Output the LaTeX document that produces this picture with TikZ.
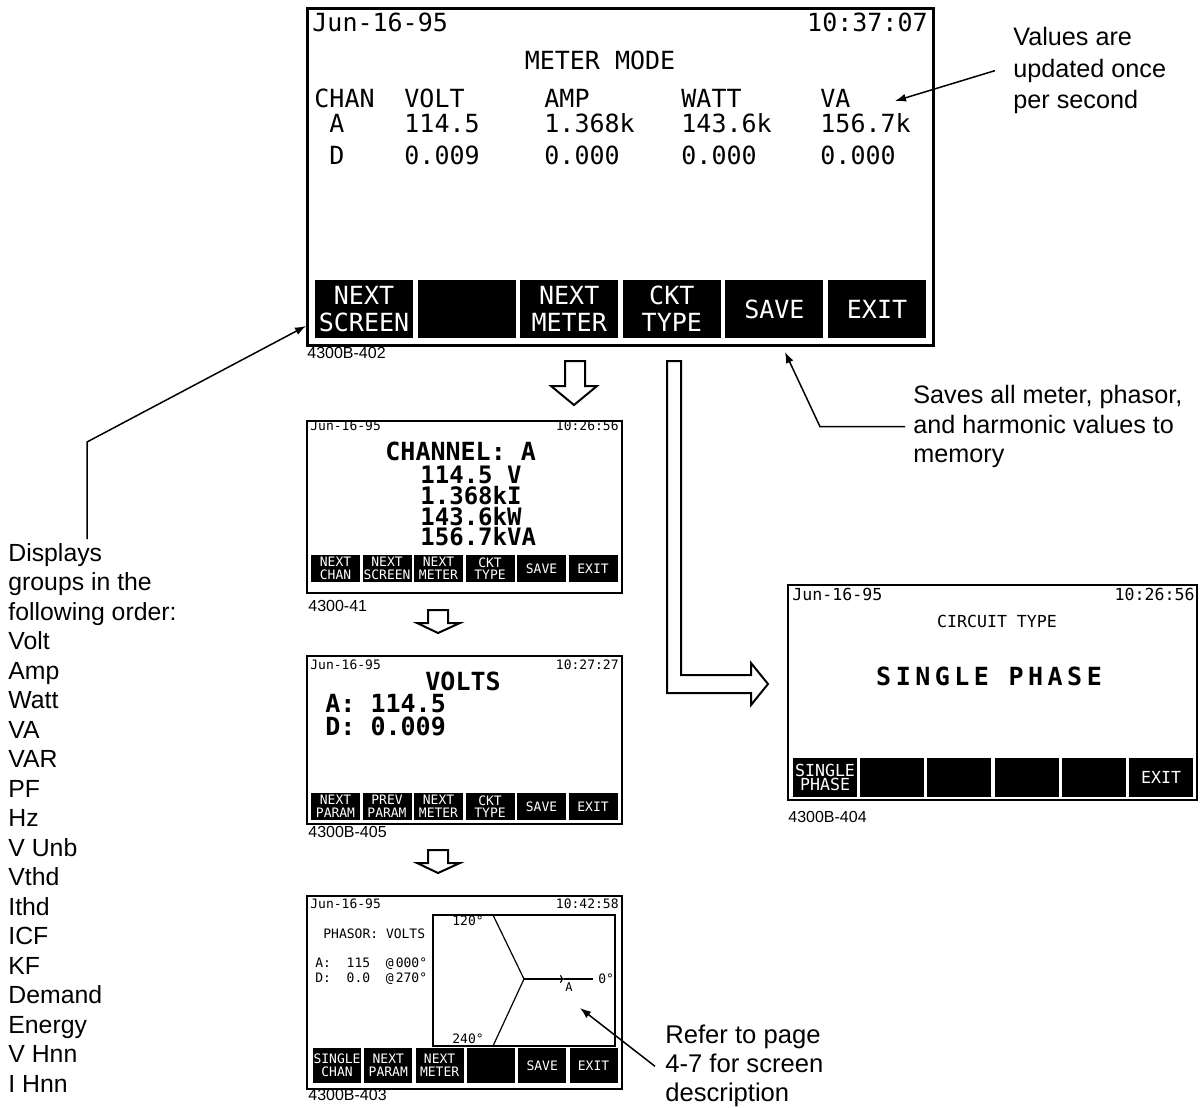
\documentclass[tikz,border=0pt]{standalone}
\usepackage{fontspec}
\setmainfont{Liberation Sans}
\newfontfamily\lcd{DejaVu Sans Mono}
\newfontfamily\lcdwide[LetterSpace=18]{DejaVu Sans Mono}
\usepackage{tikz}
\usetikzlibrary{positioning}
\usetikzlibrary{arrows,arrows.meta}

\newcommand{\lcdbig}{\lcd\fontsize{12.5}{13.5}\selectfont}
\newcommand{\lcdmid}{\lcd\fontsize{8.3}{7.4}\selectfont}
\newcommand{\lcdsmall}{\lcd\fontsize{6.5}{6.3}\selectfont}
\newcommand{\notefont}{\fontsize{12.4}{14.75}\selectfont}

\begin{document}
\begin{tikzpicture}[x=0.5pt,y=-0.5pt,
  screen/.style={draw,line width=1.2pt,inner sep=0pt},
  softkey/.style={fill=black,text=white,inner sep=0pt,align=center},
  lcdtext/.style={inner sep=0pt,anchor=base west},
  tag/.style={inner sep=0pt,anchor=base west,font=\fontsize{8}{9}\selectfont},
  note/.style={inner sep=0pt,anchor=north west,align=left,font=\notefont},
  hollow/.style={draw,line width=1pt,fill=white},
  callout/.style={line width=0.75pt,-{Latex[length=5.5pt,width=4pt]}}]
  \useasboundingbox (0,0) rectangle (1203,1107);

  % meter mode screen
  \node (meter) [screen,line width=1.5pt,minimum width=313pt,minimum height=168pt] at (620,177) {};
  \node (mdate) [lcdtext,font=\lcdbig] at (312,32) {Jun-16-95};
  \node (mtime) [lcdtext,anchor=base east,font=\lcdbig] at (928,32) {10:37:07};
  \node (mtitle) [lcdtext,anchor=base,font=\lcdbig] at (600,70) {METER MODE};
  \node (mchan) [lcdtext,font=\lcdbig] at (314,108) {CHAN};
  \node (mchA) [lcdtext,font=\lcdbig] at (329,133) {A};
  \node (mchD) [lcdtext,font=\lcdbig] at (329,165) {D};
  \foreach \x/\h/\a/\d [count=\i] in {404/VOLT/114.5/0.009, 544/AMP/1.368k/0.000, 681/WATT/143.6k/0.000, 820/VA/156.7k/0.000}{
    \node (mhead\i) [lcdtext,font=\lcdbig] at (\x,108) {\h};
    \node (mvalA\i) [lcdtext,font=\lcdbig] at (\x,133) {\a};
    \node (mvalD\i) [lcdtext,font=\lcdbig] at (\x,165) {\d};
  }
  \foreach \lab [count=\i] in {{NEXT\\SCREEN},{},{NEXT\\METER},{CKT\\TYPE},SAVE,EXIT}
    \node (mkey\i) [softkey,font=\lcdbig,minimum width=49pt,minimum height=29pt] at ({364+102.6*(\i-1)},309) {\lab};
  \node (mtag) [tag] at (307,358) {4300B-402};

  % channel screen
  \node (chan) [screen,minimum width=157.5pt,minimum height=86pt] at (464.5,507) {};
  \node (cdate) [lcdtext,font=\lcdsmall] at (310,430) {Jun-16-95};
  \node (ctime) [lcdtext,anchor=base east,font=\lcdsmall] at (619,430) {10:26:56};
  \node (ctitle) [lcdtext,font=\lcdbig\bfseries] at (385,460) {CHANNEL: A};
  \node (cvals) [inner sep=0pt,anchor=north west,align=left,font=\lcd\bfseries\fontsize{12}{10.3}\selectfont] at (420,466) {114.5 V\\1.368kI\\143.6kW\\156.7kVA};
  \foreach \lab [count=\i] in {{NEXT\\CHAN},{NEXT\\SCREEN},{NEXT\\METER},{CKT\\TYPE},SAVE,EXIT}
    \node (ckey\i) [softkey,font=\lcdsmall,minimum width=24.5pt,minimum height=13.5pt] at ({335.5+51.5*(\i-1)},568.5) {\lab};
  \node (ctag) [tag] at (308,611) {4300-41};

  % volts screen
  \node (volts) [screen,minimum width=157.5pt,minimum height=84pt] at (464.5,740) {};
  \node (vdate) [lcdtext,font=\lcdsmall] at (310,669) {Jun-16-95};
  \node (vtime) [lcdtext,anchor=base east,font=\lcdsmall] at (619,669) {10:27:27};
  \node (vtitle) [lcdtext,font=\lcdbig\bfseries] at (425,690) {VOLTS};
  \node (vA) [lcdtext,font=\lcdbig\bfseries] at (325,712) {A: 114.5};
  \node (vD) [lcdtext,font=\lcdbig\bfseries] at (325,735) {D: 0.009};
  \foreach \lab [count=\i] in {{NEXT\\PARAM},{PREV\\PARAM},{NEXT\\METER},{CKT\\TYPE},SAVE,EXIT}
    \node (vkey\i) [softkey,font=\lcdsmall,minimum width=24.5pt,minimum height=13.5pt] at ({335.5+51.5*(\i-1)},806.5) {\lab};
  \node (vtag) [tag] at (308,837) {4300B-405};

  % phasor screen
  \node (phasor) [screen,minimum width=157.5pt,minimum height=96.5pt] at (464.5,992.5) {};
  \node (pdate) [lcdtext,font=\lcdsmall] at (310,908) {Jun-16-95};
  \node (ptime) [lcdtext,anchor=base east,font=\lcdsmall] at (619,908) {10:42:58};
  \node (ptitle) [lcdtext,font=\lcdsmall] at (323,938) {PHASOR: VOLTS};
  \node (pA) [lcdtext,font=\lcdsmall] at (315,967) {A:~~115~~@\,000°};
  \node (pD) [lcdtext,font=\lcdsmall] at (315,982) {D:~~0.0~~@\,270°};
  \node (pplot) [draw,line width=0.6pt,inner sep=0pt,minimum width=91pt,minimum height=65.5pt] at (524,980.5) {};
  \coordinate (pc) at (524,979);
  \coordinate (p120) at (493,915);
  \coordinate (p240) at (493,1046);
  \coordinate (pmark) at (564,979);
  \coordinate (p0) at (593,979);
  \draw[line width=0.6pt] (p120) -- (pc) -- (p240);
  \draw[line width=0.6pt,-{To[length=2pt,width=4pt]}] (pc) -- (pmark);
  \draw[line width=0.6pt] (pmark) -- (p0);
  \node (pmarkA) [lcdtext,font=\lcd\fontsize{6}{6}\selectfont] at (565,991) {A};
  \node (l120) [lcdtext,font=\lcdsmall] at (452,925) {120°};
  \node (l240) [lcdtext,font=\lcdsmall] at (452,1043) {240°};
  \node (l0) [lcdtext,font=\lcdsmall] at (598,983) {0°};
  \foreach \lab [count=\i] in {{SINGLE\\CHAN},{NEXT\\PARAM},{NEXT\\METER},{},SAVE,EXIT}
    \node (pkey\i) [softkey,font=\lcdsmall,minimum width=24pt,minimum height=17.5pt] at ({337+51.3*(\i-1)},1065.5) {\lab};
  \node (ptag) [tag] at (308,1100) {4300B-403};

  % circuit type screen
  \node (ckt) [screen,line width=1.4pt,minimum width=204.5pt,minimum height=107.5pt] at (992.5,692.5) {};
  \node (kdate) [lcdtext,font=\lcdmid] at (792,600) {Jun-16-95};
  \node (ktime) [lcdtext,anchor=base east,font=\lcdmid] at (1195,600) {10:26:56};
  \node (ktitle) [lcdtext,anchor=base,font=\lcdmid] at (997,627) {CIRCUIT TYPE};
  \node (kphase) [lcdtext,anchor=base,font=\lcdwide\bfseries\fontsize{12.5}{13}\selectfont] at (989,685) {SINGLE PHASE};
  \foreach \lab [count=\i] in {{SINGLE\\PHASE},{},{},{},{},EXIT}
    \node (kkey\i) [softkey,font=\lcdmid,minimum width=32pt,minimum height=19.5pt] at ({825+67.2*(\i-1)},777.5) {\lab};
  \node (ktag) [tag] at (788,822) {4300B-404};

  % hollow flow arrows
  \draw[hollow] (565,361) -- (585,361) -- (585,386) -- (597,386) -- (574,405) -- (551,386) -- (565,386) -- cycle;
  \draw[hollow] (428,610) -- (448,610) -- (448,623) -- (460,623) -- (438,633) -- (417,623) -- (428,623) -- cycle;
  \draw[hollow] (428,850) -- (448,850) -- (448,863) -- (460,863) -- (438,873) -- (417,863) -- (428,863) -- cycle;
  \draw[hollow] (667,361) -- (681,361) -- (681,675) -- (751,675) -- (751,663) -- (768,684) -- (751,705) -- (751,693) -- (667,693) -- cycle;

  % notes
  \node (valnote) [note,font=\fontsize{12.6}{15.75}\selectfont] at (1013,27) {Values are\\updated once\\per second};
  \node (savnote) [note,font=\fontsize{12.6}{14.75}\selectfont] at (913,385) {Saves all meter, phasor,\\and harmonic values to\\memory};
  \node (refnote) [note,font=\fontsize{12.8}{14.5}\selectfont] at (665,1025) {Refer to page\\4-7 for screen\\description};
  \node (dispnote) [note] at (8,543) {Displays\\groups in the\\following order:\\Volt\\Amp\\Watt\\VA\\VAR\\PF\\Hz\\V Unb\\Vthd\\Ithd\\ICF\\KF\\Demand\\Energy\\V Hnn\\I Hnn};

  \coordinate (vatip) at (895,101);
  \coordinate (savbend) at (820,425);
  \coordinate (savtip) at (785,352);
  \coordinate (reftip) at (580,1008);
  \coordinate (dispbend) at (87,442);
  \coordinate (disptip) at (306,326);
  \draw[callout] (valnote.west) ++(-9pt,0) -- (vatip);
  \draw[callout] (savnote.west) ++(-4pt,0) -- (savnote.west -| savbend) -- (savtip);
  \draw[callout] (refnote.west) ++(-5pt,0) -- (reftip);
  \draw[callout] (dispnote.north -| dispbend) ++(0,2pt) -- (dispbend) -- (disptip);
\end{tikzpicture}
\end{document}
